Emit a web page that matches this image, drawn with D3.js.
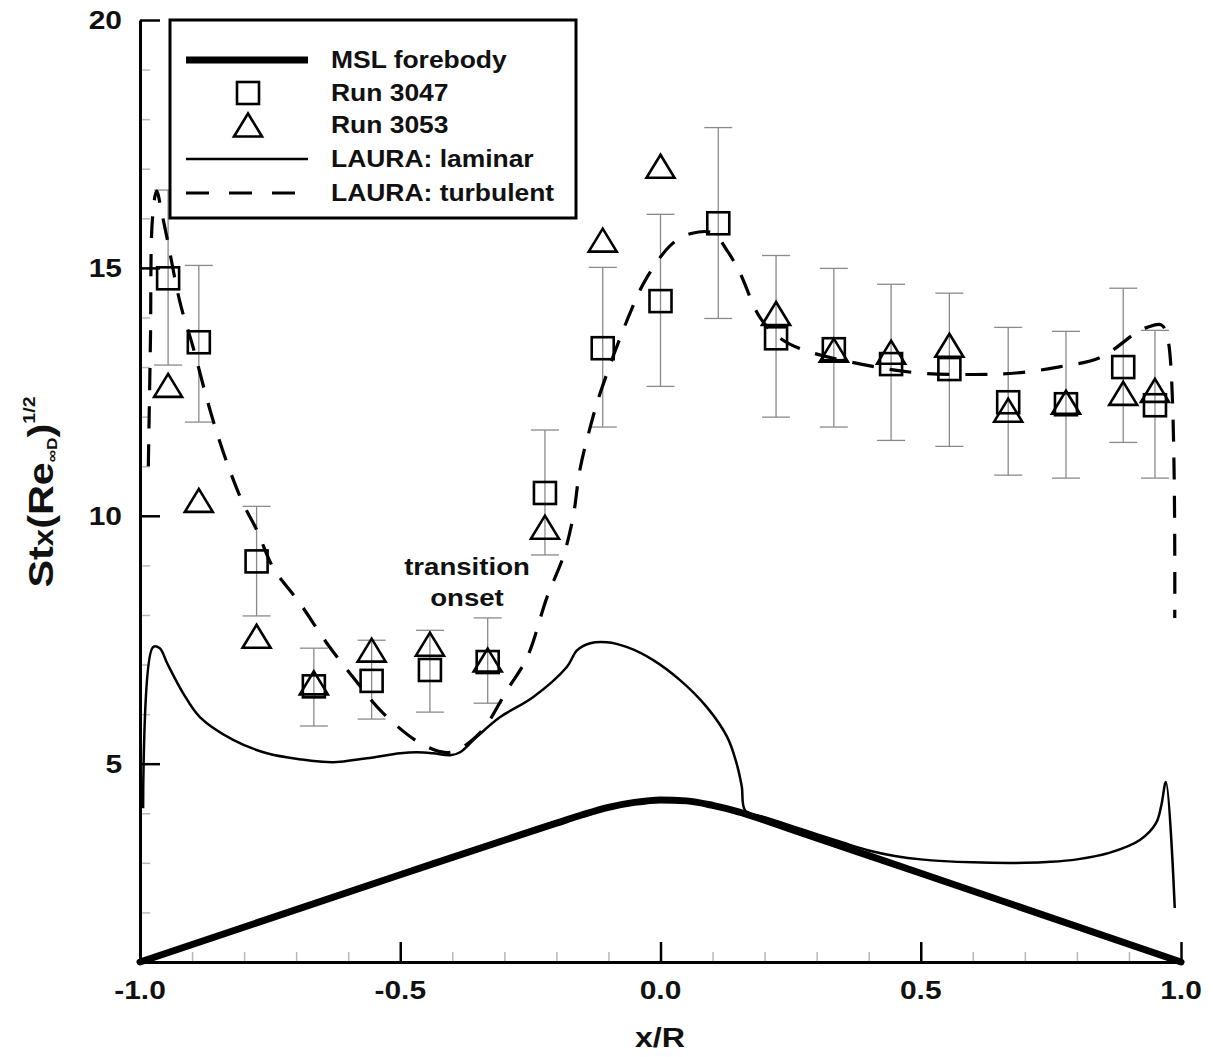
<!DOCTYPE html>
<html>
<head>
<meta charset="utf-8">
<script src="https://cdn.jsdelivr.net/npm/d3@7"></script>
<style>
  html, body { margin: 0; padding: 0; background: #fff; }
  svg { display: block; }
  text { font-family: "Liberation Sans", Arial, Helvetica, sans-serif; font-weight: bold; fill: #111; }
</style>
</head>
<body>
<svg id="chart" width="1214" height="1057"></svg>
<script>
// Axis ticks
const xMajorTicks = [-1, -0.5, 0, 0.5, 1];
const xTickLabels = ["-1.0", "-0.5", "0.0", "0.5", "1.0"];
const yMajorTicks = [5, 10, 15, 20];
const yTickLabels = ["5", "10", "15", "20"];
const xMinorTicks = [-0.9, -0.8, -0.7, -0.6, -0.4, -0.3, -0.2, -0.1, 0.1, 0.2, 0.3, 0.4, 0.6, 0.7, 0.8, 0.9];
const yMinorTicks = [2, 3, 4, 6, 7, 8, 9, 11, 12, 13, 14, 16, 17, 18, 19];

// Run 3047 (squares) with measurement uncertainty
const run3047X  = [-0.946, -0.887, -0.776, -0.666, -0.555, -0.443, -0.332, -0.222, -0.111, 0.0, 0.111, 0.222, 0.333, 0.443, 0.555, 0.668, 0.779, 0.889, 0.950];
const run3047Y  = [14.79, 13.50, 9.08, 6.56, 6.67, 6.89, 7.05, 10.46, 13.38, 14.33, 15.90, 13.58, 13.36, 13.06, 12.96, 12.29, 12.25, 13.00, 12.23];
const run3047Lo = [13.04, 11.89, 7.98, 5.76, 5.90, 6.04, 6.22, 9.21, 11.79, 12.61, 13.98, 11.99, 11.79, 11.52, 11.40, 10.82, 10.76, 11.48, 10.76];
const run3047Hi = [16.57, 15.05, 10.19, 7.33, 7.49, 7.69, 7.94, 11.73, 15.01, 16.08, 17.83, 15.25, 14.99, 14.67, 14.49, 13.80, 13.72, 14.59, 13.74];

// Run 3053 (triangles)
const run3053X = [-0.946, -0.887, -0.776, -0.666, -0.555, -0.443, -0.332, -0.222, -0.111, 0.0, 0.222, 0.333, 0.443, 0.555, 0.668, 0.779, 0.889, 0.950];
const run3053Y = [12.63, 10.31, 7.57, 6.63, 7.29, 7.41, 7.09, 9.77, 15.56, 17.05, 14.08, 13.34, 13.30, 13.44, 12.13, 12.29, 12.47, 12.53];

// MSL forebody profile
const forebodyX = [-1.0, -0.5, -0.25, -0.2, -0.15, -0.1, -0.05, 0.0, 0.05, 0.1, 0.15, 0.2, 0.25, 0.5, 1.0];
const forebodyY = [1.0, 2.76, 3.63, 3.80, 3.97, 4.12, 4.22, 4.27, 4.25, 4.16, 4.03, 3.86, 3.68, 2.79, 1.0];

// LAURA laminar
const laminarX = [-0.994, -0.975, -0.962, -0.948, -0.917, -0.885, -0.821, -0.756, -0.693, -0.629, -0.564, -0.500, -0.468, -0.437, -0.404, -0.385, -0.353, -0.308, -0.245, -0.180, -0.160, -0.135, -0.103, -0.064, -0.014, 0.037, 0.089, 0.128, 0.145, 0.156, 0.163, 0.2, 0.25, 0.3, 0.35, 0.4, 0.45, 0.5, 0.6, 0.7, 0.75, 0.8, 0.862, 0.921, 0.952, 0.962, 0.971, 0.988];
const laminarY = [4.10, 7.35, 7.33, 7.03, 6.42, 5.94, 5.48, 5.21, 5.09, 5.03, 5.11, 5.21, 5.23, 5.21, 5.17, 5.23, 5.54, 5.94, 6.34, 6.95, 7.29, 7.43, 7.45, 7.35, 7.09, 6.69, 6.14, 5.54, 5.05, 4.55, 4.05, 3.92, 3.75, 3.58, 3.41, 3.25, 3.14, 3.07, 3.01, 3.00, 3.02, 3.07, 3.20, 3.46, 3.80, 4.15, 4.63, 2.09];

// LAURA turbulent
const turbulentX = [-0.984, -0.980, -0.976, -0.968, -0.958, -0.948, -0.923, -0.898, -0.870, -0.850, -0.827, -0.802, -0.775, -0.744, -0.693, -0.641, -0.591, -0.533, -0.456, -0.404, -0.347, -0.295, -0.256, -0.218, -0.187, -0.168, -0.155, -0.135, -0.116, -0.062, -0.026, 0.024, 0.061, 0.101, 0.128, 0.153, 0.191, 0.230, 0.276, 0.414, 0.497, 0.602, 0.683, 0.764, 0.846, 0.915, 0.935, 0.962, 0.975, 0.988];
const turbulentY = [11.0, 13.5, 16.0, 16.55, 16.1, 15.6, 14.3, 13.4, 12.3, 11.6, 10.9, 10.25, 9.7, 8.95, 8.24, 7.43, 6.75, 6.02, 5.38, 5.23, 5.62, 6.48, 7.15, 8.36, 9.17, 9.97, 10.92, 11.79, 12.47, 14.00, 14.81, 15.50, 15.70, 15.70, 15.35, 14.89, 14.00, 13.58, 13.34, 13.00, 12.88, 12.85, 12.88, 13.00, 13.20, 13.70, 13.80, 13.85, 13.55, 7.94];

const legendLabels = ["MSL forebody", "Run 3047", "Run 3053", "LAURA: laminar", "LAURA: turbulent"];
const xTitle = "x/R";
const noteLines = ["transition", "onset"];

// ---------------------------------------------------------------
const svg = d3.select("#chart");
svg.append("rect").attr("width", 1214).attr("height", 1057).attr("fill", "#fff");

const x = d3.scaleLinear().domain([-1, 1]).range([140, 1181]);
const y = d3.scaleLinear().domain([1, 20]).range([962, 20]);

const STRETCH = 1.15;
function label(parent, px, py, str, size, anchor) {
  const g = parent.append("g").attr("transform", `translate(${px},${py})`);
  return g.append("text")
    .attr("transform", `scale(${STRETCH},1)`)
    .attr("text-anchor", anchor || "start")
    .attr("font-size", size)
    .text(str);
}

const zip = (xs, ys) => xs.map((v, i) => [v, ys[i]]);

// minor ticks
svg.append("g").attr("transform", `translate(0,${y(1)})`)
  .call(d3.axisBottom(x).tickValues(xMinorTicks).tickSize(-10).tickFormat(""))
  .call(g => g.select(".domain").remove())
  .selectAll("line").attr("stroke", "#b8b8b8").attr("stroke-width", 1.5);
svg.append("g").attr("transform", `translate(${x(-1)},0)`)
  .call(d3.axisLeft(y).tickValues(yMinorTicks).tickSize(-10).tickFormat(""))
  .call(g => g.select(".domain").remove())
  .selectAll("line").attr("stroke", "#b8b8b8").attr("stroke-width", 1.5);

// error bars (Run 3047)
const eb = svg.append("g").attr("stroke", "#8a8a8a").attr("stroke-width", 1.3).attr("fill", "none");
run3047X.forEach((xv, i) => {
  const cx = x(xv), y0 = y(run3047Lo[i]), y1 = y(run3047Hi[i]);
  eb.append("line").attr("x1", cx).attr("x2", cx).attr("y1", y0).attr("y2", y1);
  eb.append("line").attr("x1", cx - 14).attr("x2", cx + 14).attr("y1", y0).attr("y2", y0);
  eb.append("line").attr("x1", cx - 14).attr("x2", cx + 14).attr("y1", y1).attr("y2", y1);
});

// forebody
svg.append("path").datum(zip(forebodyX, forebodyY))
  .attr("d", d3.line().x(d => x(d[0])).y(d => y(d[1])).curve(d3.curveMonotoneX))
  .attr("fill", "none")
  .attr("stroke", "#000").attr("stroke-width", 7).attr("stroke-linejoin", "round").attr("stroke-linecap", "round");

// laminar
svg.append("path").datum(zip(laminarX, laminarY))
  .attr("d", d3.line().x(d => x(d[0])).y(d => y(d[1])).curve(d3.curveCatmullRom.alpha(0.5)))
  .attr("fill", "none").attr("stroke", "#000").attr("stroke-width", 2.5);

// turbulent
svg.append("path").datum(zip(turbulentX, turbulentY))
  .attr("d", d3.line().x(d => x(d[0])).y(d => y(d[1])).curve(d3.curveCatmullRom.alpha(0.5)))
  .attr("fill", "none").attr("stroke", "#000").attr("stroke-width", 3.2)
  .attr("stroke-dasharray", "22,16");

// markers
const SQ = 22, TW = 28, TH = 23;
function square(g, cx, cy) {
  g.append("rect").attr("x", cx - SQ / 2).attr("y", cy - SQ / 2).attr("width", SQ).attr("height", SQ)
    .attr("fill", "none").attr("stroke", "#000").attr("stroke-width", 2.6);
}
function triangle(g, cx, cy) {
  g.append("path")
    .attr("d", `M${cx},${cy - TH / 2}L${cx + TW / 2},${cy + TH / 2}L${cx - TW / 2},${cy + TH / 2}Z`)
    .attr("fill", "none").attr("stroke", "#000").attr("stroke-width", 2.6).attr("stroke-linejoin", "miter");
}
const mk = svg.append("g");
run3047X.forEach((xv, i) => square(mk, x(xv), y(run3047Y[i])));
run3053X.forEach((xv, i) => triangle(mk, x(xv), y(run3053Y[i])));

// axes
svg.append("g").attr("transform", `translate(0,${y(1)})`)
  .call(d3.axisBottom(x).tickValues(xMajorTicks).tickSize(-20).tickSizeOuter(0).tickFormat(""))
  .call(g => g.select(".domain").attr("stroke-width", 3))
  .selectAll("line").attr("stroke-width", 2.5);
svg.append("g").attr("transform", `translate(${x(-1)},0)`)
  .call(d3.axisLeft(y).tickValues(yMajorTicks).tickSize(-20).tickSizeOuter(0).tickFormat(""))
  .call(g => g.select(".domain").attr("stroke-width", 3))
  .selectAll("line").attr("stroke-width", 2.5);

// tick labels
xMajorTicks.forEach((v, i) => label(svg, x(v), 999, xTickLabels[i], 26, "middle"));
yMajorTicks.forEach((v, i) => label(svg, 122, y(v) + 9, yTickLabels[i], 26, "end"));

// axis titles
label(svg, 660, 1047, xTitle, 28, "middle");
const yt = svg.append("g").attr("transform", "translate(53,492) rotate(-90)")
  .append("text").attr("transform", `scale(${STRETCH},1)`).attr("text-anchor", "middle").attr("font-size", 36);
yt.append("tspan").text("St");
yt.append("tspan").attr("font-size", 27).text("x");
yt.append("tspan").text("(Re");
yt.append("tspan").attr("font-size", 15).attr("dy", 4).text("∞D");
yt.append("tspan").attr("dy", -4).text(")");
yt.append("tspan").attr("font-size", 17).attr("dy", -18).text("1/2");

// annotation
label(svg, 467, 575, noteLines[0], 24, "middle");
label(svg, 467, 606, noteLines[1], 24, "middle");

// legend
const lg = svg.append("g");
lg.append("rect").attr("x", 170).attr("y", 20).attr("width", 406).attr("height", 198)
  .attr("fill", "#fff").attr("stroke", "#000").attr("stroke-width", 3);
const rows = [60, 93, 125, 159, 193];
lg.append("line").attr("x1", 186).attr("x2", 308).attr("y1", rows[0]).attr("y2", rows[0])
  .attr("stroke", "#000").attr("stroke-width", 7);
square(lg, 248, rows[1]);
triangle(lg, 248, rows[2]);
lg.append("line").attr("x1", 186).attr("x2", 308).attr("y1", rows[3]).attr("y2", rows[3])
  .attr("stroke", "#000").attr("stroke-width", 2.5);
lg.append("line").attr("x1", 186).attr("x2", 300).attr("y1", rows[4]).attr("y2", rows[4])
  .attr("stroke", "#000").attr("stroke-width", 3.2).attr("stroke-dasharray", "23,20");
legendLabels.forEach((t, i) => label(lg, 331, rows[i] + 8, t, 23, "start"));
</script>
</body>
</html>
